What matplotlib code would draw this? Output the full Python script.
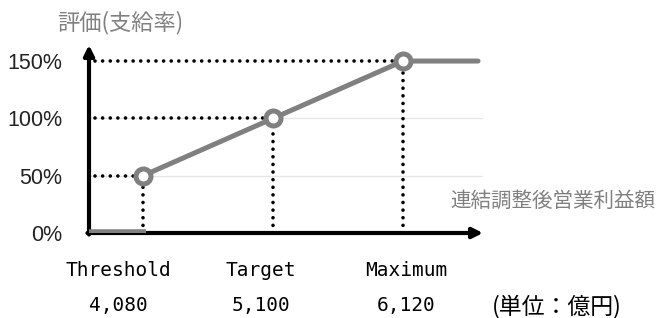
import matplotlib
matplotlib.use("Agg")
import matplotlib.pyplot as plt

# Data
categories = ["Threshold", "Target", "Maximum"]
profit_values = [4080, 5100, 6120]          # 億円
payout_rates = [50, 100, 150]               # %
value_labels = ["4,080", "5,100", "6,120"]
ytick_values = [0, 50, 100, 150]
ytick_labels = ["0%", "50%", "100%", "150%"]
x_end = 6708                                  # line continues flat at 150%

CJK = ['Noto Sans CJK JP', 'DejaVu Sans']
W, H = 663, 318
fig = plt.figure(figsize=(W / 100, H / 100), dpi=100)
ax = fig.add_axes([89 / W, 85 / H, (483 - 89) / W, (233 - 45) / H])
ax.set_xlim(3656, 6747)
ax.set_ylim(0, 164)
xmin = ax.get_xlim()[0]

for s in ax.spines.values():
    s.set_visible(False)
ax.set_xticks([])
ax.set_yticks(ytick_values)
ax.set_yticklabels(ytick_labels, fontsize=15.5, color='#222222',
                   family='Liberation Sans')
ax.tick_params(axis='y', length=0, pad=19)

# light gridlines
for y in payout_rates[:2]:
    ax.axhline(y, color='#e6e6e6', lw=1, zorder=1)

# dotted guides
dot = dict(color='black', lw=2.6, linestyle=(0, (0.01, 2.1)),
           dash_capstyle='round', zorder=2)
for x, y in zip(profit_values, payout_rates):
    ax.plot([xmin + 45, x], [y, y], **dot)
    ax.plot([x, x], [0, y], **dot)

# axes arrows
arrow = dict(arrowstyle='-|>', lw=3, color='black', mutation_scale=15,
             shrinkA=0, shrinkB=0)
ax.annotate('', xy=(1.0, 0), xytext=(-0.004, 0), xycoords='axes fraction',
            arrowprops=arrow, zorder=3)
ax.annotate('', xy=(0, 1.0), xytext=(0, -0.008), xycoords='axes fraction',
            arrowprops=arrow, zorder=3)

# payout line
grey = '#808080'
ax.plot([xmin, profit_values[0] + 20], [1, 1], color=grey, lw=4,
        solid_capstyle='butt', zorder=6)
ax.plot(profit_values + [x_end], payout_rates + [payout_rates[-1]],
        color=grey, lw=3.6, solid_capstyle='round', zorder=4)
ax.plot(profit_values, payout_rates, 'o', ms=10.8, mew=3.6,
        mfc='white', mec=grey, zorder=5, clip_on=False)

# texts
fig.text(57 / W, 1 - 23 / H, '評価(支給率)', family=CJK, fontsize=16,
         color='#808080', ha='left', va='center')
fig.text(450 / W, 1 - 201 / H, '連結調整後営業利益額', family=CJK,
         fontsize=14.8, color='#808080', ha='left', va='center')

label_x = [118, 261, 406]
for cx, cat, val in zip(label_x, categories, value_labels):
    fig.text(cx / W, 1 - 271 / H, cat, family='DejaVu Sans Mono',
             fontsize=14, ha='center', va='center', color='black')
    fig.text(cx / W, 1 - 306 / H, val, family='DejaVu Sans Mono',
             fontsize=14, ha='center', va='center', color='black')
fig.text(492 / W, 1 - 306 / H, '(単位：億円)', family=CJK, fontsize=16.5,
         ha='left', va='center', color='black')

fig.savefig('out.png', dpi=100, facecolor='white')
